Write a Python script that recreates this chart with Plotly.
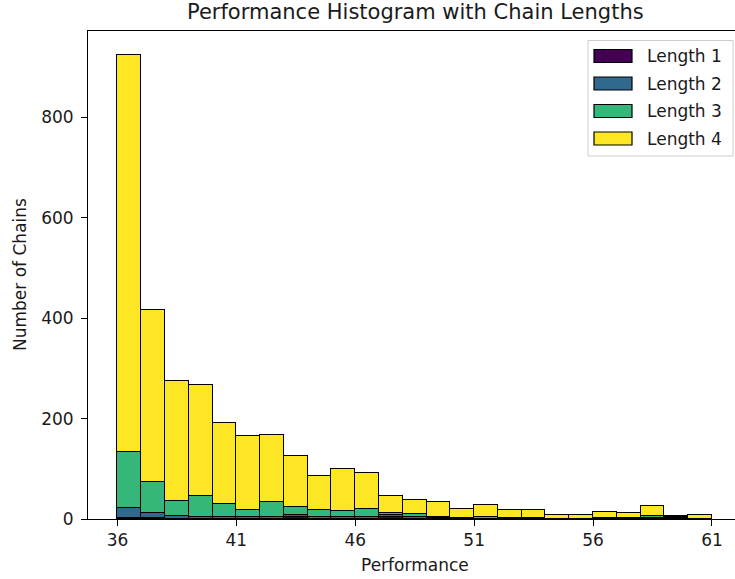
import plotly.graph_objects as go

# ---- data (counts per bin, bins of width 1 from 36 to 61) ----
bin_left = list(range(36, 61))
length1 = [2, 2, 1, 1, 1, 1, 1, 3, 1, 1, 1, 3, 1, 1, 0, 0, 0, 0, 0, 0, 0, 0, 0, 2, 0]
length2 = [20, 10, 4, 2, 2, 3, 2, 5, 2, 2, 2, 5, 2, 1, 1, 1, 1, 1, 0, 0, 1, 1, 2, 2, 0]
length3 = [112, 61, 31, 43, 27, 14, 30, 15, 14, 12, 17, 4, 7, 2, 1, 2, 1, 1, 1, 1, 1, 1, 4, 1, 1]
length4 = [791, 343, 239, 221, 161, 148, 135, 103, 69, 84, 71, 34, 28, 30, 18, 25, 15, 16, 6, 6, 11, 10, 20, 1, 7]
series_names = ["Length 1", "Length 2", "Length 3", "Length 4"]
series_colors = ["#440154", "#31688e", "#35b779", "#fde725"]
x_ticks = [36, 41, 46, 51, 56, 61]
y_ticks = [0, 200, 400, 600, 800]

W, H = 735, 579
L, R, T, B = 88, 735, 31, 519
FONT = "DejaVu Sans"

def px(xp):
    return (xp - L) / (R - L)

def py(yp):
    return (B - yp) / (B - T)

centers = [b + 0.5 for b in bin_left]
fig = go.Figure()
for name, vals, col in zip(series_names, [length1, length2, length3, length4], series_colors):
    fig.add_trace(go.Bar(
        x=centers, y=vals, width=1, name=name,
        marker=dict(color=col, line=dict(color="black", width=1.3)),
        showlegend=False,
    ))

fig.update_layout(
    width=W, height=H,
    margin=dict(l=L, r=W - R, t=T, b=H - B),
    barmode="stack", bargap=0,
    plot_bgcolor="white", paper_bgcolor="white",
    font=dict(family=FONT, size=17, color="#1a1a1a"),
    xaxis=dict(range=[34.76, 61.97], tickvals=x_ticks, ticks="outside", ticklen=6,
               tickwidth=1, tickcolor="black", showline=True, linecolor="black",
               linewidth=1, mirror=True, showgrid=False, zeroline=False),
    yaxis=dict(range=[0, 972], tickvals=y_ticks, ticks="outside", ticklen=6,
               tickwidth=1, tickcolor="black", showline=True, linecolor="black",
               linewidth=1, showgrid=False, zeroline=False, ticklabelstandoff=4),
)

ann = []
ann.append(dict(text="Performance Histogram with Chain Lengths", xref="paper", yref="paper",
                x=px(415), y=py(12), xanchor="center", yanchor="middle", showarrow=False,
                font=dict(size=21)))
ann.append(dict(text="Performance", xref="paper", yref="paper",
                x=px(415), y=py(565), xanchor="center", yanchor="middle", showarrow=False,
                font=dict(size=17)))
ann.append(dict(text="Number of Chains", xref="paper", yref="paper", textangle=-90,
                x=px(20), y=py(275), xanchor="center", yanchor="middle", showarrow=False,
                font=dict(size=17)))

shapes = []
# legend frame
shapes.append(dict(type="rect", xref="paper", yref="paper",
                   x0=px(588), x1=px(733), y0=py(40.5), y1=py(156),
                   line=dict(color="#cccccc", width=1), fillcolor="rgba(255,255,255,0.8)",
                   layer="above"))
row_y = [56, 83.5, 111, 138.5]
for name, col, yc in zip(series_names, series_colors, row_y):
    shapes.append(dict(type="rect", xref="paper", yref="paper",
                       x0=px(594), x1=px(632), y0=py(yc - 6.5), y1=py(yc + 6.5),
                       line=dict(color="black", width=1.2), fillcolor=col, layer="above"))
    ann.append(dict(text=name, xref="paper", yref="paper", x=px(645), y=py(yc),
                    xanchor="left", yanchor="middle", showarrow=False,
                    font=dict(size=17)))

fig.update_layout(annotations=ann, shapes=shapes)
fig.write_html("out.html")
